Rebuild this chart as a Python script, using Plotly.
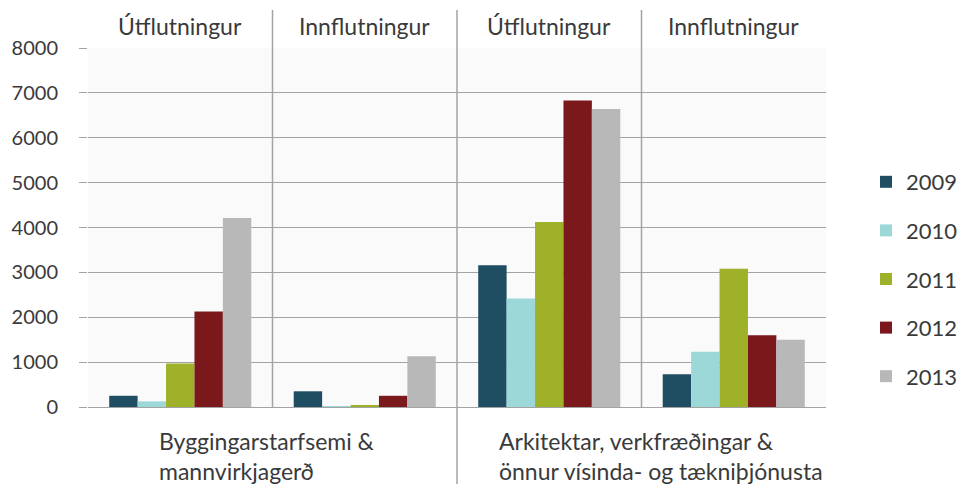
import plotly.graph_objects as go

# Four panels: exports/imports for two service sectors
panels = ["Bygg-Út", "Bygg-Inn", "Ark-Út", "Ark-Inn"]
panel_titles = ["Útflutningur", "Innflutningur", "Útflutningur", "Innflutningur"]
group_labels = ["Byggingarstarfsemi &<br>mannvirkjagerð",
                "Arkitektar, verkfræðingar &<br>önnur vísinda- og tækniþjónusta"]

years = ["2009", "2010", "2011", "2012", "2013"]
values = {
    "2009": [250, 350, 3160, 730],
    "2010": [125, 20, 2420, 1230],
    "2011": [970, 30, 4120, 3080],
    "2012": [2130, 250, 6830, 1600],
    "2013": [4210, 1130, 6640, 1500],
}
colors = ["#1f4e63", "#9dd8d8", "#9fb128", "#7b181c", "#b8b8b8"]

y_ticks = [0, 1000, 2000, 3000, 4000, 5000, 6000, 7000, 8000]

FONT = "Lato, 'Open Sans', sans-serif"
TEXT = "#3a3a3a"
LINE = "#a3a3a3"

# plot area in pixels: x 88..826, y 48..407
PX_H = 359.0


def ypaper(px):
    return (407 - px) / PX_H


fig = go.Figure()
for yr, col in zip(years, colors):
    fig.add_trace(go.Bar(
        x=panels, y=values[yr], name=yr, legendgroup=yr,
        marker=dict(color=col, line=dict(width=0)),
    ))

# panel separators
for i, x in enumerate([0.5, 1.5, 2.5]):
    y0 = ypaper(484) if i == 1 else 0
    fig.add_shape(type="line", xref="x", yref="paper", x0=x, x1=x,
                  y0=y0, y1=ypaper(10), line=dict(color=LINE, width=1.5), layer="above")

# panel headers
for p, t in zip(panels, panel_titles):
    fig.add_annotation(x=p, xref="x", y=ypaper(26), yref="paper",
                       text=t, showarrow=False, yanchor="middle",
                       font=dict(family=FONT, size=23, color=TEXT))

# sector labels under the axis
for x_px, lab in zip([157, 497], group_labels):
    fig.add_annotation(x=(x_px - 88) / 738, xref="paper", y=ypaper(425), yref="paper",
                       text=lab, showarrow=False, xanchor="left", yanchor="top",
                       align="left", font=dict(family=FONT, size=23, color=TEXT))

fig.update_layout(
    width=963, height=484,
    margin=dict(l=88, r=137, t=48, b=77, autoexpand=False),
    paper_bgcolor="white", plot_bgcolor="#fafafa",
    barmode="group", bargap=0.23, bargroupgap=0,
    font=dict(family=FONT, color=TEXT),
    showlegend=True,
    legend=dict(x=(866 - 88) / 738, xanchor="left", y=ypaper(279), yanchor="middle",
                font=dict(family=FONT, size=22, color=TEXT),
                tracegroupgap=17, bgcolor="rgba(0,0,0,0)"),
    xaxis=dict(showticklabels=False, showgrid=False, zeroline=False,
               showline=False, ticks=""),
    yaxis=dict(range=[0, 8000], tickvals=y_ticks, showgrid=True,
               gridcolor=LINE, gridwidth=1.2, zeroline=True, zerolinecolor=LINE,
               zerolinewidth=1.2, ticks="outside", ticklen=8, tickcolor=LINE,
               tickwidth=1.2, ticklabelstandoff=17,
               tickfont=dict(family=FONT, size=20, color=TEXT)),
)

fig.write_html("out.html")
